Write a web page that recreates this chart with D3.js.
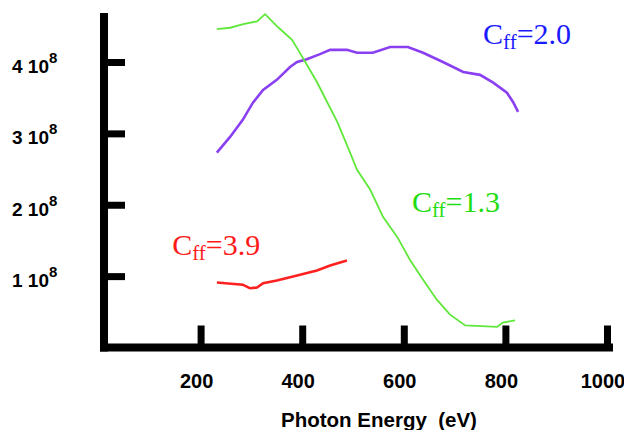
<!DOCTYPE html>
<html>
<head>
<meta charset="utf-8">
<script src="https://cdn.jsdelivr.net/npm/d3@7"></script>
<style>
  body { margin:0; background:#fff; }
  svg { display:block; }
</style>
</head>
<body>
<svg id="chart" width="624" height="430"></svg>
<script>

// photon energy (eV) ticks and intensity ticks (units of 10^8)
var energyTicks = [200, 400, 600, 800, 1000];
var intensityTicks = [1, 2, 3, 4];

// Cff = 1.3 (green)
var greenEnergy = [232, 258, 284, 311, 327, 352, 380, 392, 406, 429, 449, 469, 488, 508, 534, 559, 587, 612, 638, 665, 691, 721, 784, 795, 819];
var greenValue  = [4.46, 4.48, 4.53, 4.57, 4.67, 4.49, 4.31, 4.17, 4.00, 3.72, 3.44, 3.16, 2.84, 2.49, 2.21, 1.83, 1.55, 1.23, 0.95, 0.67, 0.46, 0.31, 0.29, 0.35, 0.38];

// Cff = 2.0 (purple)
var purpleEnergy = [232, 258, 283, 303, 323, 350, 376, 390, 409, 435, 455, 488, 508, 539, 573, 608, 638, 677, 717, 750, 776, 803, 815, 825];
var purpleValue  = [2.73, 2.95, 3.19, 3.43, 3.61, 3.75, 3.93, 4.00, 4.04, 4.11, 4.17, 4.17, 4.13, 4.13, 4.21, 4.21, 4.13, 4.00, 3.86, 3.82, 3.71, 3.57, 3.44, 3.30];

// Cff = 3.9 (red)
var redEnergy = [232, 283, 297, 311, 323, 350, 390, 429, 455, 488];
var redValue  = [0.91, 0.88, 0.83, 0.84, 0.90, 0.94, 1.01, 1.08, 1.15, 1.22];

var labelNames = ["2.0", "1.3", "3.9"];

var svg = d3.select("#chart");

var x = d3.scaleLinear().domain([0, 1000]).range([99, 607]);
var y = d3.scaleLinear().domain([0, 4]).range([347.5, 62]);

var sans = "'Liberation Sans', Arial, sans-serif";
var serif = "'Liberation Serif', 'Times New Roman', serif";

// ticks (inward, thick)
var xAxis = d3.axisBottom(x).tickValues(energyTicks).tickSizeInner(-22).tickSizeOuter(0).tickFormat("");
var gx = svg.append("g").attr("transform", "translate(0," + y(0) + ")").call(xAxis);
gx.select(".domain").remove();
gx.selectAll(".tick line").attr("stroke", "#000").attr("stroke-width", 7);

var yAxis = d3.axisLeft(y).tickValues(intensityTicks).tickSizeInner(-21).tickSizeOuter(0).tickFormat("");
var gy = svg.append("g").attr("transform", "translate(104,0)").call(yAxis);
gy.select(".domain").remove();
gy.selectAll(".tick line").attr("stroke", "#000").attr("stroke-width", 7);

// axis lines
svg.append("line").attr("x1", 104).attr("x2", 104).attr("y1", 13).attr("y2", y(0) + 4)
  .attr("stroke", "#000").attr("stroke-width", 8);
svg.append("line").attr("x1", 100).attr("x2", x(1000) + 6).attr("y1", y(0)).attr("y2", y(0))
  .attr("stroke", "#000").attr("stroke-width", 8);

// x tick labels
svg.selectAll(".xlab").data(energyTicks).enter().append("text")
  .attr("class", "xlab")
  .attr("x", function(d){ return x(d) - 4; })
  .attr("y", 388)
  .attr("text-anchor", "middle")
  .style("font-family", sans).style("font-weight", "bold").style("font-size", "20px")
  .text(function(d){ return d; });

// y tick labels "n 10^8"
var yl = svg.selectAll(".ylab").data(intensityTicks).enter().append("text")
  .attr("class", "ylab")
  .attr("x", 12)
  .attr("y", function(d){ return y(d) + 11; })
  .style("font-family", sans).style("font-weight", "bold").style("font-size", "19px");
yl.append("tspan").text(function(d){ return d + " 10"; });
yl.append("tspan").attr("dy", -10).style("font-size", "15px").text("8");

// axis title
svg.append("text")
  .attr("x", 379).attr("y", 427)
  .attr("text-anchor", "middle")
  .style("font-family", sans).style("font-weight", "bold").style("font-size", "20.5px")
  .style("white-space", "pre")
  .text("Photon Energy  (eV)");

// curves
var line = d3.line()
  .x(function(d){ return x(d[0]); })
  .y(function(d){ return y(d[1]); });

function pairs(a, b){ return a.map(function(v, i){ return [v, b[i]]; }); }

svg.append("path").datum(pairs(purpleEnergy, purpleValue))
  .attr("d", line).attr("fill", "none").attr("stroke", "#8a3ff0").attr("stroke-width", 2.6);
svg.append("path").datum(pairs(redEnergy, redValue))
  .attr("d", line).attr("fill", "none").attr("stroke", "#ff2020").attr("stroke-width", 2.6);
svg.append("path").datum(pairs(greenEnergy, greenValue))
  .attr("d", line).attr("fill", "none").attr("stroke", "#5fe83a").attr("stroke-width", 1.8);

// Cff labels
function cffLabel(name, e, v, color){
  var t = svg.append("text")
    .attr("x", x(e)).attr("y", y(v))
    .style("font-family", serif).style("font-size", "30px").attr("fill", color);
  t.append("tspan").text("C");
  t.append("tspan").attr("dy", 5).style("font-size", "21px").text("ff");
  t.append("tspan").attr("dy", -5).text("=" + name);
}
cffLabel(labelNames[0], 756, 4.25, "#1a1aff");
cffLabel(labelNames[1], 616, 1.90, "#22dd11");
cffLabel(labelNames[2], 144, 1.30, "#ff1a1a");

</script>
</body>
</html>
